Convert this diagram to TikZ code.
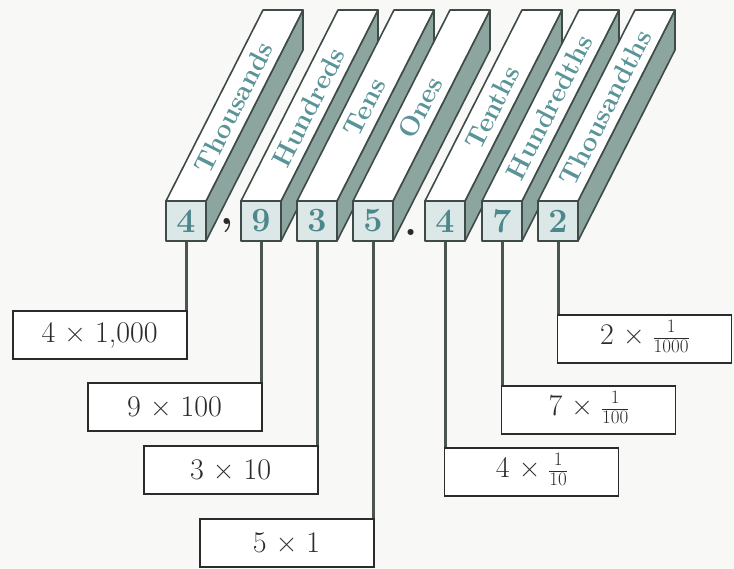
\documentclass[tikz,border=0pt]{standalone}
\usepackage{fontspec}
\usetikzlibrary{calc}

\definecolor{paper}{HTML}{F8F8F6}
\definecolor{edge}{HTML}{3E4B48}
\definecolor{sidefill}{HTML}{8CA69F}
\definecolor{frontfill}{HTML}{DCE7E8}
\definecolor{tealtext}{HTML}{5A9498}
\definecolor{digittext}{HTML}{4C878B}
\definecolor{wire}{HTML}{4A5451}
\definecolor{inkdark}{HTML}{2A2C2B}

% small stacked fraction set in text mode
\newcommand\smallfrac[2]{\raisebox{1.5pt}{\fontsize{19}{19}\selectfont
  \setlength\tabcolsep{0pt}\setlength\arrayrulewidth{1pt}%
  \renewcommand\arraystretch{0.95}%
  \begin{tabular}{c}#1\\\hline #2\end{tabular}}}

\begin{document}
\begin{tikzpicture}[x=1pt,y=-1pt,
  bar/.style={draw=edge,line width=1.6pt,line join=round},
  sideface/.style={bar,fill=sidefill},
  topface/.style={bar,fill=white},
  digitbox/.style={bar,fill=frontfill,minimum width=40pt,minimum height=40pt,
    inner sep=0pt,text=digittext,font=\fontsize{34}{36}\selectfont\bfseries},
  barlabel/.style={text=tealtext,inner sep=0pt,rotate=63,
    font=\fontsize{27}{30}\selectfont\bfseries},
  sep/.style={text=inkdark,inner sep=0pt,font=\fontsize{42}{44}\selectfont\bfseries},
  valbox/.style={draw=inkdark,line width=1.8pt,fill=white,minimum width=174pt,
    minimum height=48pt,inner sep=0pt,text=inkdark,font=\fontsize{30}{34}\selectfont},
  link/.style={draw=wire,line width=3pt}]

% page
\fill[paper] (0,0) rectangle (734,569);
\useasboundingbox (0,0) rectangle (734,569);

% place-value bars: side face, top face, labelled front square
\foreach \n/\x/\d/\lab in {d1/166/4/Thousands, d2/241/9/Hundreds, d3/297/3/Tens,
    d4/353/5/Ones, d5/425/4/Tenths, d6/482/7/Hundredths, d7/538/2/Thousandths}{
  \path[sideface] (\x+40,201) -- (\x+137,10) -- (\x+137,50) -- (\x+40,241) -- cycle;
  \path[topface] (\x,201) -- (\x+97,10) -- (\x+137,10) -- (\x+40,201) -- cycle;
  \node[barlabel] (\n-lab) at (\x+20+0.49*97,201-0.49*191) {\lab};
  \node[digitbox] (\n) at (\x+20,221) {\d};
}

% comma and decimal point
\node[sep] (comma) at (227,226) {,};
\node[sep] (point) at (411,232) {.};

% expanded-form boxes
\node[valbox,anchor=north east] (b1) at (187.5,310) {4 × 1,000};
\node[valbox,anchor=north east] (b2) at (262.5,382) {9 × 100};
\node[valbox,anchor=north east] (b3) at (318.5,445) {3 × 10};
\node[valbox,anchor=north east] (b4) at (374.5,518) {5 × 1};
\node[valbox,anchor=north west] (b5) at (443.5,447) {4 × \smallfrac{1}{10}};
\node[valbox,anchor=north west] (b6) at (500.5,385) {7 × \smallfrac{1}{100}};
\node[valbox,anchor=north west] (b7) at (556.5,314) {2 × \smallfrac{1}{1000}};

% connectors from each digit down to its box
\foreach \i in {1,...,7}{
  \draw[link] (d\i.south) -- (d\i.south |- b\i.north);
}
\end{tikzpicture}
\end{document}
